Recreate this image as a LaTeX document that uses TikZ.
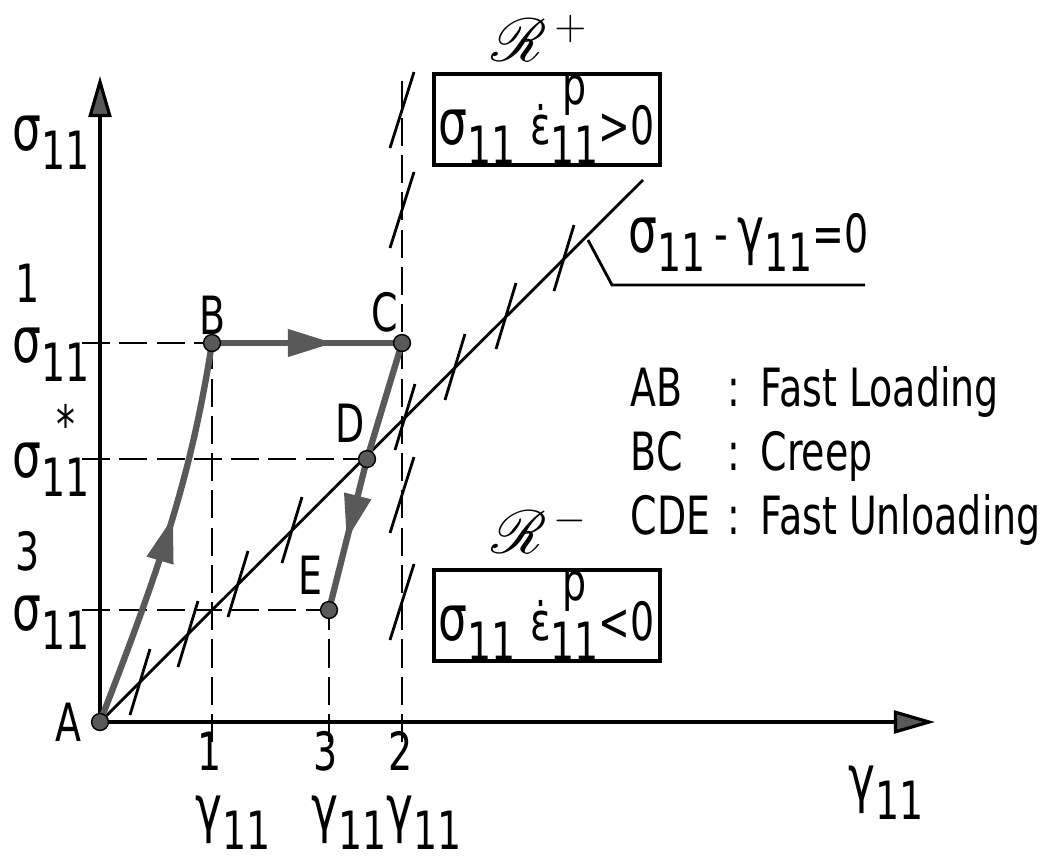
\documentclass[tikz,border=0pt]{standalone}
\usepackage{fontspec}
\usepackage{amsmath}
\usepackage{mathrsfs}
\setmainfont{DejaVu Sans}[FakeStretch=0.72]
\usetikzlibrary{arrows.meta,decorations.markings}

\newcommand\labelfont{\fontsize{15}{18.2}\selectfont}
\newcommand\sig{{\fontsize{18}{18}\selectfont σ}}
\newcommand\gam{{\fontsize{18}{18}\selectfont γ}}
\newcommand\lowidx[1]{\raisebox{-5.5pt}{#1}}
\newcommand\idxtop[3][4pt]{\shortstack{#2\\[#1]#3}}

\begin{document}
\begin{tikzpicture}[
    x=0.1mm, y=-0.1mm,
    pathline/.style={draw=black!65, line width=1.8pt},
    guide/.style={line width=0.6pt, dash pattern=on 8pt off 2.6pt},
    hatch/.style={line width=0.8pt},
    pt/.style={circle, fill=black!65, draw=black, line width=0.4pt,
        inner sep=0pt, minimum size=4.8pt},
    lbl/.style={inner sep=0pt, font=\labelfont},
    eqbox/.style={draw, line width=1.1pt, minimum width=2.26cm,
        minimum height=0.91cm, inner sep=0pt, font=\labelfont},
    midarrow/.style={postaction={decorate}, decoration={markings,
        mark=at position #1 with {\arrow{Triangle[length=13pt,width=7.5pt]}}}},
    axis/.style={line width=0.9pt,
        -{Triangle[length=11.7pt,width=6.5pt,fill=black!65]}}
]
\useasboundingbox (0,0) rectangle (1061,862);

% ------------------------------------------------------------
% points of the path
% ------------------------------------------------------------
\coordinate (a) at (100,722);
\coordinate (b) at (212,343);
\coordinate (c) at (402,343);
\coordinate (d) at (367,459);
\coordinate (e) at (329,610);
\coordinate (lend) at (643,180);

% ------------------------------------------------------------
% axes
% ------------------------------------------------------------
\draw[axis] (a) -- (100,76);
\draw[axis] (a) -- (935,722);

% ------------------------------------------------------------
% dashed guides
% ------------------------------------------------------------
\draw[guide] (82,343) -- (b);
\draw[guide] (82,459) -- (d);
\draw[guide] (82,610) -- (e);
\draw[guide] (212,742) -- (b);
\draw[guide] (329,742) -- (e);
\draw[guide] (402,742) -- (402,75);

% ------------------------------------------------------------
% line sigma - gamma = 0 with its hatches
% ------------------------------------------------------------
\draw[line width=0.8pt] (a) -- (lend);
\foreach \x in {140,188,238,292,405,455,506,564}
    \draw[hatch] (\x-10,855-\x) -- (\x+10,789-\x);
\foreach \y in {110,210,495,602}
    \draw[hatch] (390,\y+38) -- (414,\y-38);
\draw[line width=0.8pt] (588,240) -- (612,285) -- (865,285);

% ------------------------------------------------------------
% loading path A-B-C-D-E
% ------------------------------------------------------------
\draw[pathline, midarrow=0.55] (a) .. controls (165,555) and (192,470) .. (b);
\draw[pathline, midarrow=0.64] (b) -- (c);
\draw[pathline, midarrow=0.74] (c) -- (d) -- (e);

\foreach \p in {a,b,c,d,e}
    \node[pt] (pt\p) at (\p) {};

% ------------------------------------------------------------
% point labels
% ------------------------------------------------------------
\node[lbl] (lblA) at (68,722) {A};
\node[lbl] (lblB) at (213,315) {B};
\node[lbl] (lblC) at (385,312) {C};
\node[lbl] (lblD) at (350,423) {D};
\node[lbl] (lblE) at (310,575) {E};

% ------------------------------------------------------------
% axis labels
% ------------------------------------------------------------
\node[lbl, anchor=base west] (sigax) at (12,150) {\sig\lowidx{11}};
\node[lbl, anchor=base west] (gamax) at (848,800) {\gam\lowidx{11}};

\node[lbl, anchor=base west] (sig1) at (12,362) {\idxtop{1}{\sig}\lowidx{11}};
\node[lbl, anchor=base west] (sigs) at (12,477) {\sig\lowidx{\idxtop[1pt]{*}{11}}};
\node[lbl, anchor=base west] (sig3) at (12,630) {\idxtop{3}{\sig}\lowidx{11}};

\node[lbl, anchor=base west] (gam1) at (195,830) {\idxtop{1}{\gam}\lowidx{11}};
\node[lbl, anchor=base west] (gam3) at (311,830) {\idxtop{3}{\gam}\lowidx{11}};
\node[lbl, anchor=base west] (gam2) at (386,830) {\idxtop{2}{\gam}\lowidx{11}};

% ------------------------------------------------------------
% regions and their conditions
% ------------------------------------------------------------
\node[inner sep=0pt, font=\fontsize{17}{17}\selectfont] (rpos) at (540,38)
    {$\mathscr{R}^{\,+}$};
\node[eqbox, anchor=north west] (boxpos) at (432,72)
    {\sig\lowidx{11}\hspace{4pt}ε̇\lowidx{\idxtop[0pt]{p}{11}}>0};

\node[inner sep=0pt, font=\fontsize{17}{17}\selectfont] (rneg) at (540,530)
    {$\mathscr{R}^{\,-}$};
\node[eqbox, anchor=north west] (boxneg) at (432,568)
    {\sig\lowidx{11}\hspace{4pt}ε̇\lowidx{\idxtop[0pt]{p}{11}}<0};

\node[lbl, anchor=base west] (eqlbl) at (628,252)
    {\sig\lowidx{11}\,-\,\gam\lowidx{11}=0};

% ------------------------------------------------------------
% legend
% ------------------------------------------------------------
\node[lbl, anchor=north west, align=left] (legend) at (630,366) {%
    \makebox[0.97cm][l]{AB}\makebox[0.33cm][l]{:}Fast Loading\\
    \makebox[0.97cm][l]{BC}\makebox[0.33cm][l]{:}Creep\\
    \makebox[0.97cm][l]{CDE}\makebox[0.33cm][l]{:}Fast Unloading};

\end{tikzpicture}
\end{document}
